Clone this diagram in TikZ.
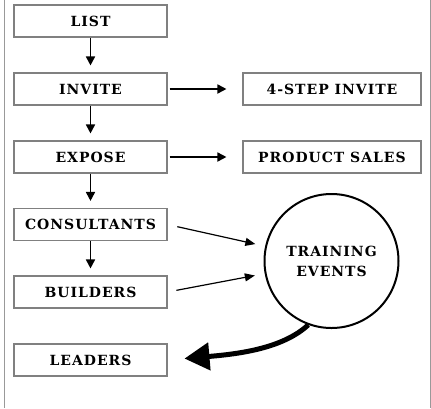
\documentclass[tikz,border=0pt]{standalone}
\usepackage{fontspec}
\newfontfamily\slab[LetterSpace=7,BoldFont={DejaVu Serif Bold}]{DejaVu Serif}
\usetikzlibrary{arrows.meta,calc}
\begin{document}
\begin{tikzpicture}[x=1pt,y=1pt,
  box/.style={draw=black!50,line width=1.1pt,minimum height=32pt,inner sep=0pt,
    font=\slab\bfseries\fontsize{14}{16}\selectfont,text=black},
  lbox/.style={box,minimum width=153pt},
  rbox/.style={box,minimum width=178pt},
  flow/.style={line width=1.7pt,-{Triangle[length=9pt,width=9pt]}},
  thin/.style={line width=1.2pt,-{Triangle[length=10pt,width=8pt]}},
  big/.style={line width=5pt,-{Triangle[length=25pt,width=27pt]}},
  side/.style={draw=black!40,line width=1pt}
]
\useasboundingbox (0,0) rectangle (431,-408);
\draw[side] (4.5,0) -- (4.5,-408);
\draw[side] (430,0) -- (430,-408);

\node[lbox] (list)  at (90.5,-21)   {LIST};
\node[lbox] (inv)   at (90.5,-89)   {INVITE};
\node[lbox] (exp)   at (90.5,-157)  {EXPOSE};
\node[lbox] (cons)  at (90.5,-224.5){CONSULTANTS};
\node[lbox] (build) at (90.5,-292)  {BUILDERS};
\node[lbox] (lead)  at (90.5,-360)  {LEADERS};
\node[rbox] (step)  at (332,-89)    {4-STEP INVITE};
\node[rbox] (prod)  at (332,-157)   {PRODUCT SALES};
\node[circle,draw,line width=2pt,minimum size=134pt,inner sep=0pt,align=center,
  font=\slab\bfseries\fontsize{14}{20}\selectfont,text=black] (te) at (331.5,-261) {TRAINING\\EVENTS};

\draw[flow,shorten >=7pt] (list) -- (inv);
\draw[flow,shorten >=7pt] (inv) -- (exp);
\draw[flow,shorten >=7pt] (exp) -- (cons);
\draw[flow,shorten >=7pt] (cons) -- (build);
\draw[flow,shorten <=2pt,shorten >=16pt] (inv) -- (step);
\draw[flow,shorten <=2pt,shorten >=16pt] (exp) -- (prod);
\draw[thin,shorten <=10pt,shorten >=10pt] (cons.east) -- (te);
\draw[thin,shorten <=9pt,shorten >=10pt] (build.east) -- (te);
\draw[big,shorten >=17pt] (te.250) .. controls ($(te.250)+(-26,-24)$) and ($(lead.east)+(70,6)$) .. (lead.east);
\end{tikzpicture}
\end{document}
